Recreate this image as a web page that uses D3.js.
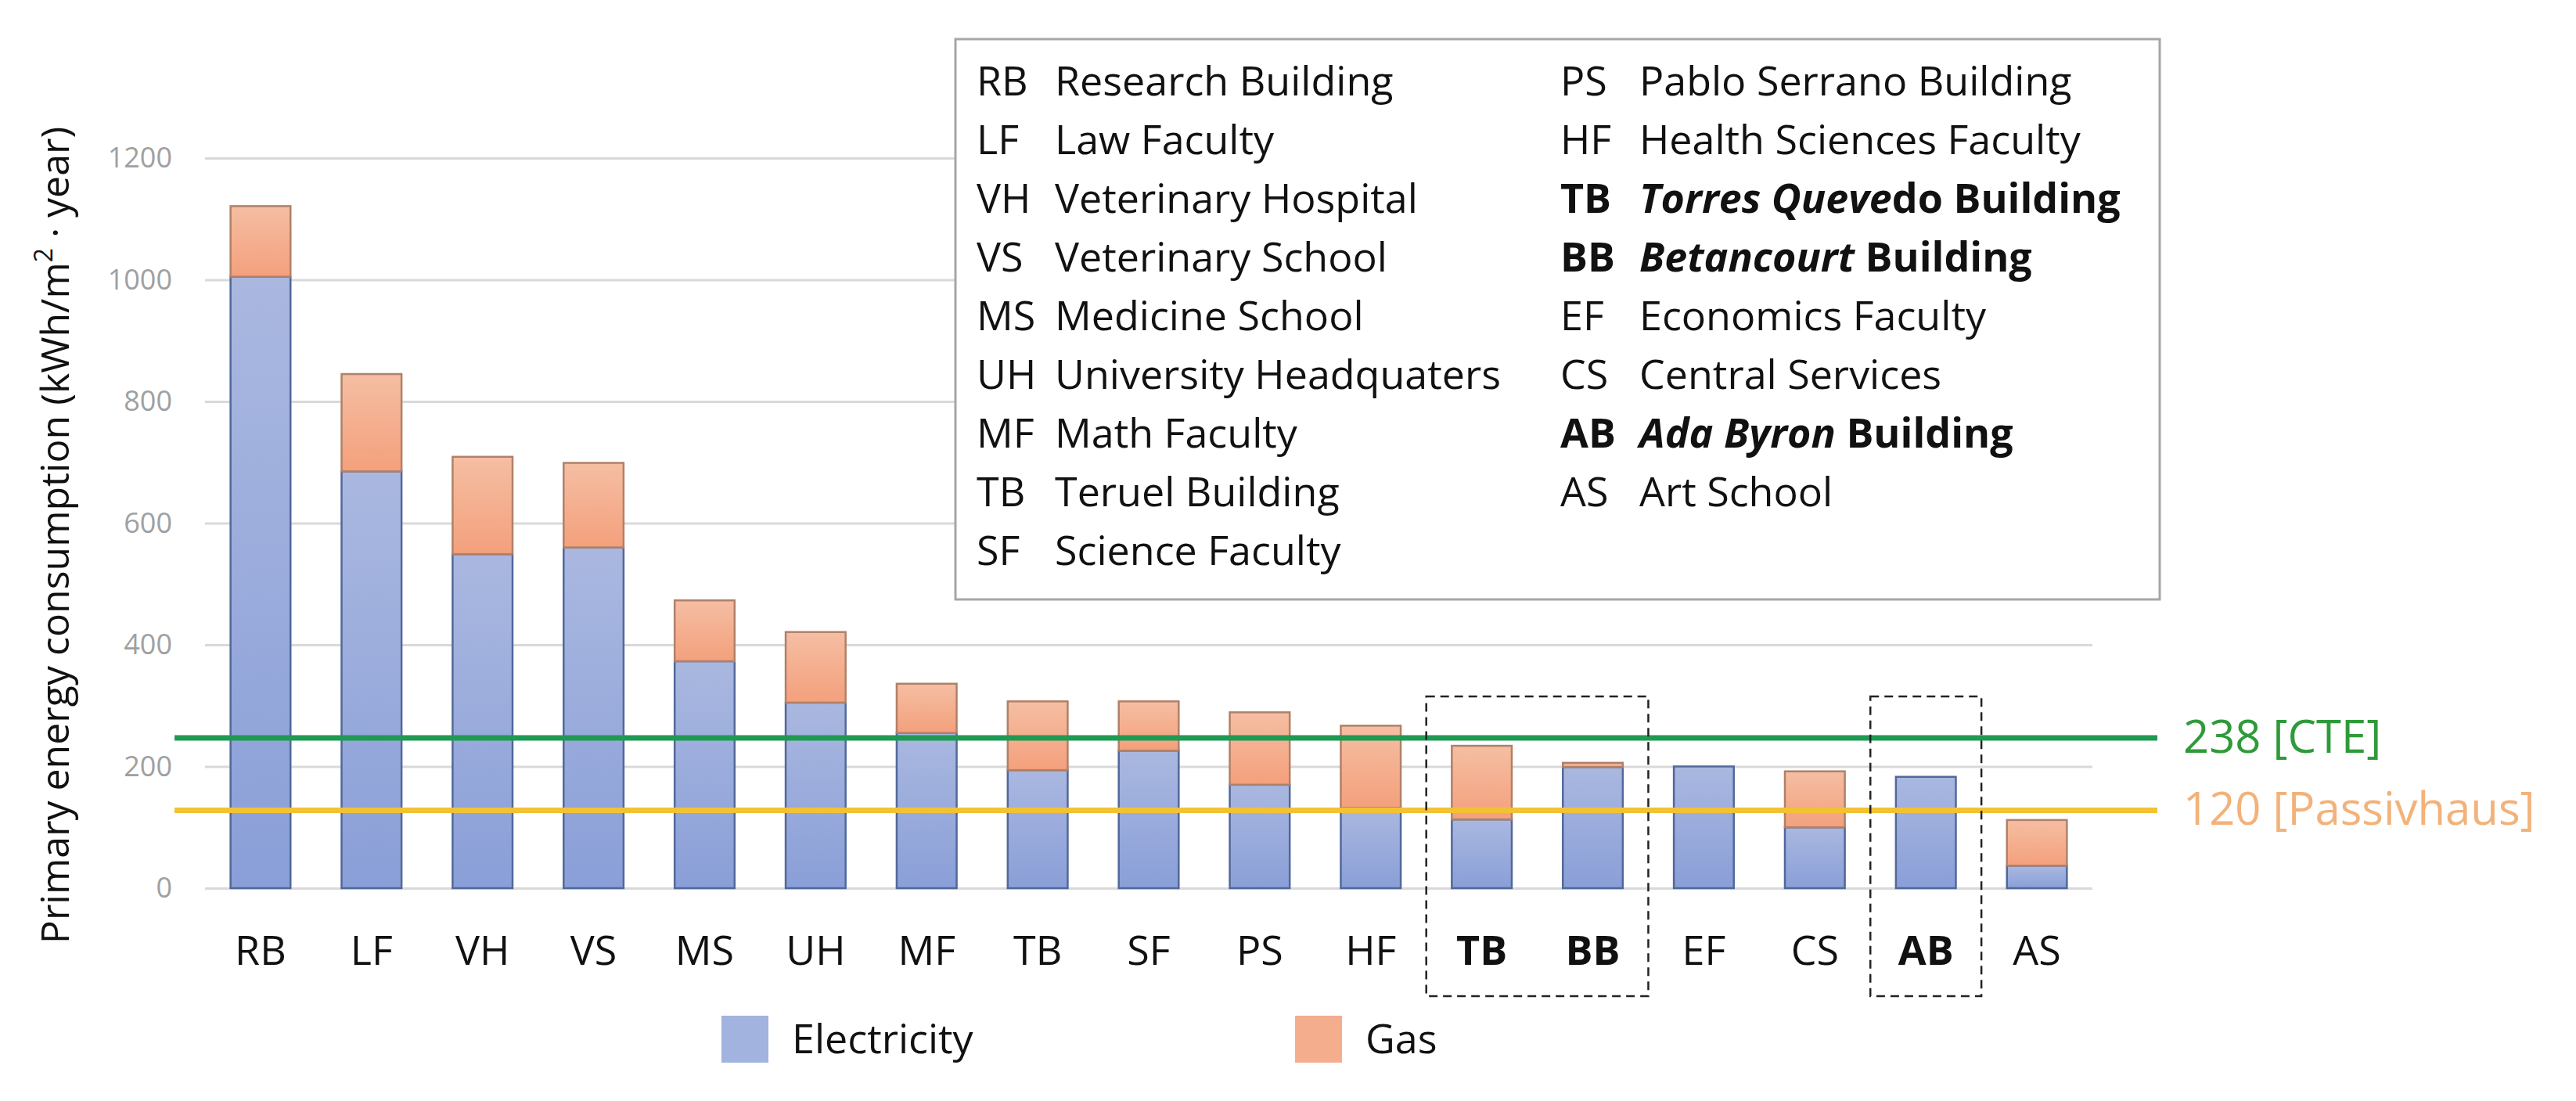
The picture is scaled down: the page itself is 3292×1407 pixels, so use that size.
<!DOCTYPE html>
<html>
<head>
<meta charset="utf-8">
<script src="https://cdn.jsdelivr.net/npm/d3@7"></script>
<style>
  body { margin: 0; background: #fff; }
  text { font-family: "Open Sans", "Noto Sans", sans-serif; }
</style>
</head>
<body>
<div id="chart-area"></div>
<script>
// data
const categories = ["RB", "LF", "VH", "VS", "MS", "UH", "MF", "TB", "SF", "PS", "HF", "TB", "BB", "EF", "CS", "AB", "AS"];
const electricity = [1005, 685, 549, 560, 373, 305, 255, 194, 226, 170, 132, 113, 199, 200, 100, 183, 37];
const gas = [116, 160, 160, 139, 100, 116, 81, 113, 81, 119, 135, 121, 7, 0, 92, 0, 75];
const highlighted = [11, 12, 15];
const boxGroups = [[11, 12], [15, 15]];
const yTicks = [0, 200, 400, 600, 800, 1000, 1200];
const refValues = [247, 128];
const refLabels = ["238 [CTE]", "120 [Passivhaus]"];
const seriesNames = ["Electricity", "Gas"];

const legendLeft = [
  ["RB", "Research Building"], ["LF", "Law Faculty"], ["VH", "Veterinary Hospital"],
  ["VS", "Veterinary School"], ["MS", "Medicine School"], ["UH", "University Headquaters"],
  ["MF", "Math Faculty"], ["TB", "Teruel Building"], ["SF", "Science Faculty"]
];
const legendRight = [
  ["PS", "Pablo Serrano Building"], ["HF", "Health Sciences Faculty"], ["TB", "Torres Queve|do Building"],
  ["BB", "Betancourt| Building"], ["EF", "Economics Faculty"], ["CS", "Central Services"],
  ["AB", "Ada Byron| Building"], ["AS", "Art School"]
];

const W = 3292, H = 1407;
const plot = { left: 262, right: 2674, top: 202, bottom: 1135 };

const svg = d3.select("#chart-area")
  .append("svg")
    .attr("width", W)
    .attr("height", H);

const defs = svg.append("defs");
const elecGrad = defs.append("linearGradient").attr("id", "elecGrad")
    .attr("x1", 0).attr("y1", 0).attr("x2", 0).attr("y2", 1);
elecGrad.append("stop").attr("offset", "0%").attr("stop-color", "#aab8e0");
elecGrad.append("stop").attr("offset", "100%").attr("stop-color", "#8a9fd8");
const gasGrad = defs.append("linearGradient").attr("id", "gasGrad")
    .attr("x1", 0).attr("y1", 0).attr("x2", 0).attr("y2", 1);
gasGrad.append("stop").attr("offset", "0%").attr("stop-color", "#f5bea3");
gasGrad.append("stop").attr("offset", "100%").attr("stop-color", "#f4a07c");

const xScale = d3.scaleBand()
  .domain(d3.range(categories.length))
  .range([plot.left, plot.right])
  .paddingInner(0.46)
  .paddingOuter(0.23);

const yScale = d3.scaleLinear()
  .domain([0, 1200])
  .range([plot.bottom, plot.top]);

// y axis with gridlines
const yAxisGroup = svg.append("g")
    .attr("transform", `translate(${plot.left},0)`)
    .call(d3.axisLeft(yScale)
      .tickValues(yTicks)
      .tickFormat(d3.format("d"))
      .tickSize(-(plot.right - plot.left))
      .tickPadding(42));
yAxisGroup.select(".domain").remove();
yAxisGroup.selectAll(".tick line")
    .attr("stroke", "#d9d9d9")
    .attr("stroke-width", 3);
yAxisGroup.selectAll(".tick text")
    .attr("fill", "#a0a0a0")
    .style("font-size", "36px")
    .style("font-family", "'Open Sans', sans-serif");

// x axis labels
const xAxisGroup = svg.append("g")
    .attr("transform", `translate(0,${plot.bottom})`)
    .call(d3.axisBottom(xScale)
      .tickSize(0)
      .tickPadding(61)
      .tickFormat(i => categories[i]));
xAxisGroup.select(".domain").remove();
xAxisGroup.selectAll(".tick text")
    .attr("fill", "#111")
    .style("font-size", "52px")
    .style("font-family", "'Open Sans', sans-serif")
    .style("font-weight", i => highlighted.includes(i) ? "bold" : "normal");

// stacked bars
const bw = xScale.bandwidth();
svg.append("g").selectAll(".bar-elec")
  .data(d3.range(categories.length))
  .enter().append("rect")
    .attr("class", "bar-elec")
    .attr("x", i => xScale(i))
    .attr("width", bw)
    .attr("y", i => yScale(electricity[i]))
    .attr("height", i => yScale(0) - yScale(electricity[i]))
    .attr("fill", "url(#elecGrad)")
    .attr("stroke", "#52689a")
    .attr("stroke-width", 2.5);

svg.append("g").selectAll(".bar-gas")
  .data(d3.range(categories.length).filter(i => gas[i] > 0))
  .enter().append("rect")
    .attr("class", "bar-gas")
    .attr("x", i => xScale(i))
    .attr("width", bw)
    .attr("y", i => yScale(electricity[i] + gas[i]))
    .attr("height", i => yScale(electricity[i]) - yScale(electricity[i] + gas[i]))
    .attr("fill", "url(#gasGrad)")
    .attr("stroke", "#b08068")
    .attr("stroke-width", 2.5);

// reference lines
const refColors = ["#1f9a52", "#f2c233"];
const refTextColors = ["#2f9a3a", "#f2b27a"];
refValues.forEach((v, k) => {
  svg.append("line")
      .attr("x1", 223)
      .attr("x2", 2757)
      .attr("y1", yScale(v))
      .attr("y2", yScale(v))
      .attr("stroke", refColors[k])
      .attr("stroke-width", 7);
  svg.append("text")
      .attr("x", 2790)
      .attr("y", yScale(v) + 19)
      .attr("fill", refTextColors[k])
      .style("font-size", "58px")
      .text(refLabels[k]);
});

// dashed boxes around highlighted buildings
const halfGap = (xScale.step() - bw) / 2;
boxGroups.forEach(([a, b]) => {
  const x0 = xScale(a) - halfGap;
  const x1 = xScale(b) + bw + halfGap;
  const y0 = yScale(315);
  svg.append("rect")
      .attr("x", x0)
      .attr("y", y0)
      .attr("width", x1 - x0)
      .attr("height", plot.bottom + 138 - y0)
      .attr("fill", "none")
      .attr("stroke", "#222")
      .attr("stroke-width", 2.5)
      .attr("stroke-dasharray", "11,7");
});

// legend box with building names
svg.append("rect")
    .attr("x", 1221)
    .attr("y", 50)
    .attr("width", 2760 - 1221)
    .attr("height", 766 - 50)
    .attr("fill", "#fff")
    .attr("stroke", "#a6a6a6")
    .attr("stroke-width", 3);

function legendColumn(rows, xAbbr, xName) {
  rows.forEach(([abbr, name], r) => {
    const y = 122 + r * 75;
    const bold = name.includes("|");
    svg.append("text")
        .attr("x", xAbbr)
        .attr("y", y)
        .attr("fill", "#111")
        .style("font-size", "52px")
        .style("font-weight", bold ? "bold" : "normal")
        .text(abbr);
    const t = svg.append("text")
        .attr("x", xName)
        .attr("y", y)
        .attr("fill", "#111")
        .style("font-size", "52px")
        .style("font-weight", bold ? "bold" : "normal");
    if (bold) {
      const parts = name.split("|");
      t.append("tspan").style("font-style", "italic").text(parts[0]);
      t.append("tspan").text(parts[1]);
    } else {
      t.text(name);
    }
  });
}
legendColumn(legendLeft, 1248, 1348);
legendColumn(legendRight, 1994, 2095);

// series legend
const seriesFills = ["#a3b3df", "#f4ae8e"];
const seriesX = [922, 1655];
seriesNames.forEach((name, k) => {
  svg.append("rect")
      .attr("x", seriesX[k])
      .attr("y", 1298)
      .attr("width", 60)
      .attr("height", 60)
      .attr("fill", seriesFills[k]);
  svg.append("text")
      .attr("x", seriesX[k] + 90)
      .attr("y", 1346)
      .attr("fill", "#111")
      .style("font-size", "52px")
      .text(name);
});

// y axis title
const yTitle = svg.append("text")
    .attr("transform", "translate(88,684) rotate(-90)")
    .attr("text-anchor", "middle")
    .attr("fill", "#111")
    .style("font-size", "50px");
yTitle.append("tspan").text("Primary energy consumption (kWh/m");
yTitle.append("tspan").attr("baseline-shift", "super").style("font-size", "32px").text("2");
yTitle.append("tspan").text(" · year)");
</script>
</body>
</html>
